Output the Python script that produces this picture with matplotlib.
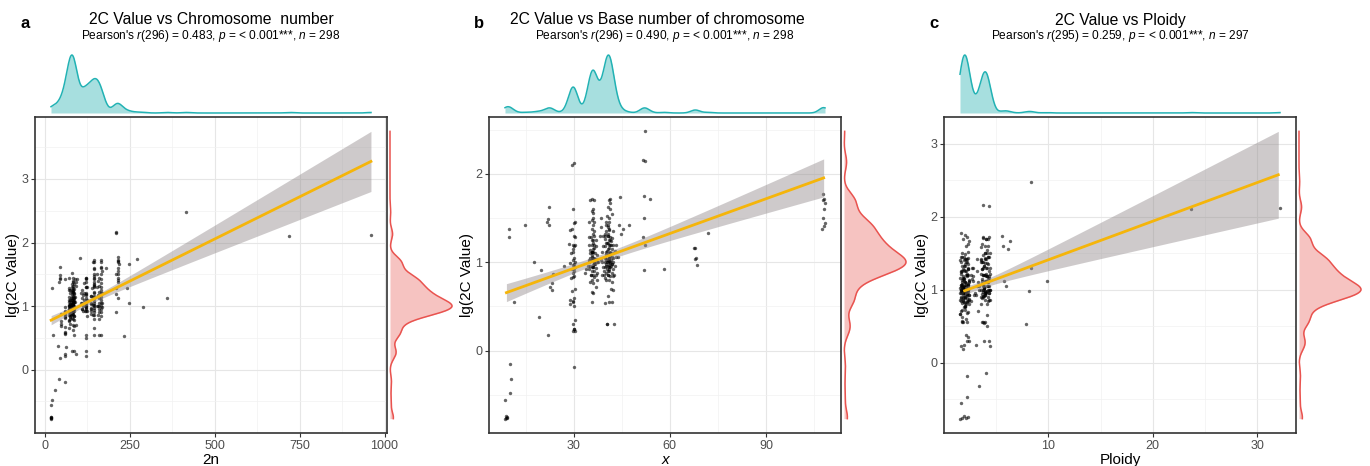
import numpy as np
import matplotlib
matplotlib.use("Agg")
import matplotlib.pyplot as plt
from matplotlib.ticker import MultipleLocator

plt.rcParams["font.family"] = ["Liberation Sans", "DejaVu Sans"]
plt.rcParams["mathtext.fontset"] = "custom"
plt.rcParams["mathtext.it"] = "Liberation Sans:italic"
plt.rcParams["mathtext.rm"] = "Liberation Sans"

# species groups: base chromosome number, ploidy level, number of species
group_base = [9, 10, 10, 10, 11, 15, 18, 19, 20, 22, 23, 27,
              30, 30, 29, 30, 30, 29, 30, 30, 29,
              35, 36, 37, 36, 34, 36, 36, 38,
              39, 40, 41, 42, 43, 40, 41, 39,
              44, 45, 45, 47, 52, 52, 52, 54, 58, 68, 72, 108,
              36, 41, 36, 41, 30, 40, 35, 42, 35, 37]
group_ploidy = [2, 2, 3, 4, 2, 4, 4, 2, 4, 2, 2, 4,
                24, 32, 8, 8, 2, 2, 4, 3, 4,
                2, 2, 2, 4, 4, 8, 10, 4,
                2, 2, 2, 2, 2, 3, 4, 4,
                2, 2, 6, 2, 4, 8, 2, 4, 2, 2, 2, 2,
                3, 3, 6, 6, 6, 4, 4, 4, 3, 3]
group_size = [6, 2, 1, 2, 1, 1, 1, 1, 1, 5, 4, 1,
              1, 1, 1, 1, 11, 4, 19, 3, 3,
              8, 12, 9, 27, 3, 1, 1, 3,
              5, 17, 25, 19, 5, 2, 18, 4,
              2, 2, 1, 1, 6, 1, 1, 1, 1, 5, 1, 9,
              4, 4, 2, 2, 1, 11, 5, 4, 2, 3]

# lg(2C value), same order as the groups above
lg_2c = [
    -0.77, -0.76, -0.76, -0.75, -0.74, -0.56,
    -0.48, 1.28,
    -0.32,
    -0.15, 1.38,
    0.55,
    1.42,
    1.00,
    0.38,
    0.91,
    1.62, 1.49, 1.45, 1.42, 0.18,
    0.87, 0.76, 0.72, 0.69,
    0.96,
    2.10,
    2.12,
    0.53,
    1.29,
    0.90, 0.88, 0.84, 0.83, 0.67, 0.60, 0.56, 0.35, 0.24, 0.22, -0.19,
    0.99, 0.92, 0.82, 0.57,
    1.45, 1.44, 1.38, 1.30, 1.20, 1.19, 1.18, 1.12, 1.05, 1.02, 1.00, 0.98,
    0.97, 0.95, 0.93, 0.55, 0.50, 0.30, 0.22,
    0.24, 1.15, 0.70,
    1.36, 1.21, 1.10,
    1.45, 1.28, 1.10, 1.00, 0.96, 0.92, 0.86, 0.78,
    1.25, 1.20, 1.15, 1.06, 1.04, 1.02, 0.99, 0.95, 0.90, 0.83, 0.76, 0.66,
    1.25, 1.10, 1.08, 1.04, 0.98, 0.88, 0.85, 0.80, 0.72,
    1.72, 1.70, 1.60, 1.58, 1.50, 1.48, 1.45, 1.42, 1.38, 1.35, 1.32, 1.30,
    1.22, 1.20, 1.16, 1.12, 1.08, 1.05, 1.02, 1.00, 0.97, 0.94, 0.90, 0.86,
    0.80, 0.65, 0.55,
    0.96, 0.92, 0.88,
    0.98,
    1.12,
    1.50, 1.30, 1.00,
    1.30, 1.12, 1.02, 0.95, 0.86,
    1.52, 1.35, 1.26, 1.22, 1.18, 1.13, 1.09, 1.06, 1.04, 1.02, 1.00, 0.98,
    0.95, 0.92, 0.88, 0.82, 0.30,
    1.45, 1.40, 1.38, 1.32, 1.28, 1.25, 1.22, 1.20, 1.16, 1.12, 1.10, 1.08,
    1.07, 1.05, 1.03, 1.01, 1.00, 0.99, 0.97, 0.96, 0.94, 0.90, 0.86, 0.80,
    0.62,
    1.35, 1.27, 1.24, 1.19, 1.15, 1.10, 1.06, 1.03, 1.00, 0.98, 0.96, 0.92,
    0.88, 0.84, 0.78, 0.70, 0.68, 0.55, 0.30,
    1.20, 1.13, 1.06, 0.96, 0.85,
    1.42, 1.30,
    1.72, 1.70, 1.62, 1.60, 1.50, 1.42, 1.36, 1.30, 1.25, 1.20, 1.15, 1.10,
    1.05, 1.00, 0.95, 0.90, 0.84, 0.55,
    1.40, 1.18, 1.00, 0.86,
    1.42, 1.06,
    1.38, 1.32,
    1.74,
    1.42,
    2.16, 2.15, 1.50, 1.28, 1.19, 0.91,
    2.48,
    1.75,
    1.71,
    0.92,
    1.16, 1.16, 1.05, 1.04, 0.97,
    1.33,
    1.77, 1.72, 1.70, 1.67, 1.60, 1.50, 1.44, 1.41, 1.38,
    1.25, 1.12, 1.05, 0.95,
    1.30, 1.10, 0.92, 0.85,
    1.56, 1.12,
    1.67, 1.05,
    1.60,
    1.45, 1.32, 1.22, 1.12, 1.05, 1.00, 0.96, 0.90, 0.80, 0.54, 0.30,
    1.70, 1.28, 1.14, 1.02, 0.86,
    1.55, 1.20, 1.05, 0.98,
    1.20, 1.05,
    1.18, 1.00, 0.93,
]

titles = ["2C Value vs Chromosome  number",
          "2C Value vs Base number of chromosome",
          "2C Value vs Ploidy"]
subtitles = [r"Pearson's $\it{r}$(296) = 0.483, $\it{p}$ = < 0.001***, $\it{n}$ = 298",
             r"Pearson's $\it{r}$(296) = 0.490, $\it{p}$ = < 0.001***, $\it{n}$ = 298",
             r"Pearson's $\it{r}$(295) = 0.259, $\it{p}$ = < 0.001***, $\it{n}$ = 297"]

base_x = np.repeat(group_base, group_size).astype(float)
ploidy = np.repeat(group_ploidy, group_size).astype(float)
chrom_2n = base_x * ploidy
y = np.array(lg_2c)
assert len(y) == len(base_x), (len(y), len(base_x))

# geom_jitter-like horizontal spread (+-0.44 units), deterministic
jit = ((np.arange(len(y)) * 0.6180339887) % 1.0 - 0.5) * 0.88

W, H = 1370, 466
fig = plt.figure(figsize=(W / 100, H / 100), dpi=100)


def px_axes(l, t, r, b, **kw):
    return fig.add_axes([l / W, 1 - b / H, (r - l) / W, (b - t) / H], **kw)


def lm_band(x, yv, n_grid=80):
    b1, b0 = np.polyfit(x, yv, 1)
    xs = np.linspace(x.min(), x.max(), n_grid)
    fit = b0 + b1 * xs
    res = yv - (b0 + b1 * x)
    n = len(x)
    s = np.sqrt(np.sum(res ** 2) / (n - 2))
    sxx = np.sum((x - x.mean()) ** 2)
    se = s * np.sqrt(1 / n + (xs - x.mean()) ** 2 / sxx)
    return xs, fit, fit - 1.968 * se, fit + 1.968 * se


def kde(v, grid):
    n = len(v)
    iqr = np.subtract(*np.percentile(v, [75, 25]))
    bw = 0.9 * min(np.std(v, ddof=1), iqr / 1.34) * n ** -0.2
    z = (grid[:, None] - v[None, :]) / bw
    return np.exp(-0.5 * z ** 2).sum(axis=1) / (n * bw * np.sqrt(2 * np.pi))


def draw_panel(box, x_plot, x_fit, xlabel, italic_x, xmaj, xmin, ymaj, title,
               subtitle, letter, title_dx=0):
    l, t, r, b = box
    ax = px_axes(l, t, r, b)
    ax.set_axisbelow(True)
    ax.scatter(x_plot, y, s=6, color="black", alpha=0.6, linewidths=0, zorder=2)
    xs, fit, lo, hi = lm_band(x_fit, y)
    ax.fill_between(xs, lo, hi, color="#938b8d", alpha=0.45, linewidth=0, zorder=3)
    ax.plot(xs, fit, color="#f5b50a", lw=2, zorder=4)
    ax.margins(x=0.05, y=0.05)

    ax.xaxis.set_major_locator(MultipleLocator(xmaj))
    ax.xaxis.set_minor_locator(MultipleLocator(xmin))
    ax.yaxis.set_major_locator(MultipleLocator(ymaj))
    ax.yaxis.set_minor_locator(MultipleLocator(ymaj / 2))
    ax.grid(which="major", color="#e6e6e6", lw=0.8)
    ax.grid(which="minor", color="#f1f1f1", lw=0.5)
    ax.tick_params(which="major", length=3, width=0.8, color="#333333",
                   labelsize=9, labelcolor="#4d4d4d", pad=2)
    ax.tick_params(which="minor", length=0)
    for sp in ax.spines.values():
        sp.set_color("#333333")
        sp.set_linewidth(1.2)
    ax.set_xlabel(xlabel, fontsize=11, style="italic" if italic_x else "normal",
                  labelpad=1)
    ax.set_ylabel("lg(2C Value)", fontsize=11, labelpad=1)

    # top marginal density
    axt = px_axes(l, 55, r, 113, sharex=ax)
    gx = np.linspace(x_plot.min(), x_plot.max(), 512)
    dx = kde(x_plot, gx)
    axt.fill_between(gx, 0, dx, color="#a7dfdf", linewidth=0)
    axt.plot(gx, dx, color="#22b2b4", lw=1.1, clip_on=False)
    axt.set_ylim(0, dx.max())
    axt.axis("off")

    # right marginal density
    axr = px_axes(r + 3, t, r + 65, b, sharey=ax)
    gy = np.linspace(y.min(), max(y.max(), hi.max()), 512)
    dy = kde(y, gy)
    axr.fill_betweenx(gy, 0, dy, color="#f6c3c1", linewidth=0)
    axr.plot(dy, gy, color="#e9534f", lw=1.1, clip_on=False)
    axr.set_xlim(0, dy.max())
    axr.axis("off")

    cx = (l + r) / 2
    fig.text((cx + title_dx) / W, 1 - 20 / H, title, ha="center", va="center",
             fontsize=11.3)
    fig.text(cx / W, 1 - 36 / H, subtitle, ha="center", va="center", fontsize=8.6)
    fig.text((l - 10) / W, 1 - 24 / H, letter, ha="center", va="center",
             fontsize=12, fontweight="bold")
    return ax


draw_panel((35, 117, 387, 433), chrom_2n + jit, chrom_2n, "2n", False,
           250, 125, 1, titles[0], subtitles[0], "a")
draw_panel((489, 117, 841, 433), base_x + jit, base_x, "x", True,
           30, 15, 1, titles[1], subtitles[1], "b", title_dx=-8)
draw_panel((944, 117, 1296, 433), ploidy + jit, ploidy, "Ploidy", False,
           10, 5, 1, titles[2], subtitles[2], "c")

fig.savefig("out.png", dpi=100, facecolor="white")
